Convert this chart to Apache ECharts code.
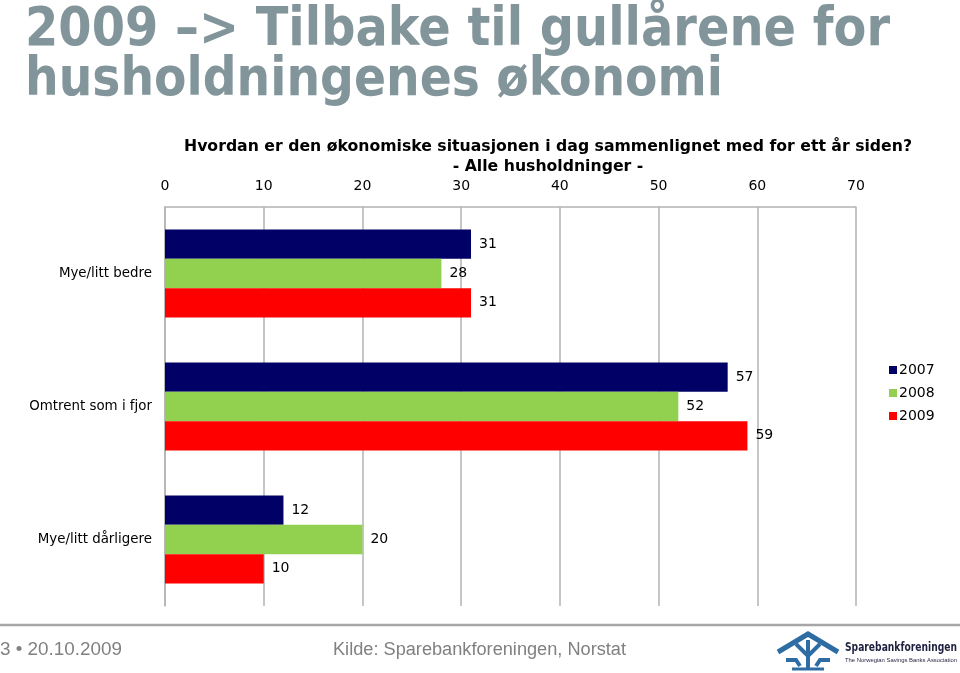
<!DOCTYPE html>
<html>
<head>
<meta charset="utf-8">
<script src="https://cdn.jsdelivr.net/npm/echarts@6/dist/echarts.min.js"></script>
<style>
html,body{margin:0;padding:0;background:#fff;}
#main{width:960px;height:673px;}
</style>
</head>
<body>
<div id="main"></div>
<script>
const categories = ['Mye/litt bedre', 'Omtrent som i fjor', 'Mye/litt dårligere'];
const seriesNames = ['2007', '2008', '2009'];
const values2007 = [31, 57, 12];
const values2008 = [28, 52, 20];
const values2009 = [31, 59, 10];
const xTicks = [0, 10, 20, 30, 40, 50, 60, 70];

const titleLine1 = '2009 –> Tilbake til gullårene for';
const titleLine2 = 'husholdningenes økonomi';
const subtitle1 = 'Hvordan er den økonomiske situasjonen i dag sammenlignet med for ett år siden?';
const subtitle2 = '- Alle husholdninger -';
const footerLeft = '3 • 20.10.2009';
const footerMid = 'Kilde: Sparebankforeningen, Norstat';
const logoName = 'Sparebankforeningen';
const logoSub = 'The Norwegian Savings Banks Association';

const colors = ['#000066', '#92D050', '#FF0000'];

const ctx = document.createElement('canvas').getContext('2d');
function fitScale(text, font, target) {
  ctx.font = font;
  return target / ctx.measureText(text).width;
}

const titleFont = 'bold 54px "DejaVu Sans"';
const s1 = fitScale(titleLine1, titleFont, 865);
const s2 = fitScale(titleLine2, titleFont, 698);
const titleColor = '#82959A';
const footFont = '18px "Liberation Sans"';
const sf1 = fitScale(footerLeft, footFont, 122);
const sf2 = fitScale(footerMid, footFont, 293);
const logoFont = 'bold 13px "DejaVu Sans"';
const logoSubFont = '6px "Liberation Sans"';
const sl1 = fitScale(logoName, logoFont, 112);
const sl2 = fitScale(logoSub, logoSubFont, 112);

const chart = echarts.init(document.getElementById('main'));
const dataSets = [values2007, values2008, values2009];

const option = {
  animation: false,
  textStyle: { fontFamily: '"DejaVu Sans", Verdana, sans-serif' },
  grid: { left: 165, right: 104, top: 207, bottom: 67, containLabel: false },
  legend: {
    orient: 'vertical',
    left: 884,
    top: 358,
    itemWidth: 8,
    itemHeight: 8,
    itemGap: 9,
    icon: 'rect',
    data: seriesNames,
    textStyle: { fontSize: 14, color: '#000', padding: [0, 0, 0, -3] }
  },
  xAxis: {
    type: 'value',
    position: 'top',
    min: 0,
    max: 70,
    interval: 10,
    axisLine: { show: true, lineStyle: { color: '#B3B3B3', width: 1.5 } },
    axisTick: { show: false },
    splitLine: { show: true, lineStyle: { color: '#B3B3B3', width: 1.5 } },
    axisLabel: {
      fontSize: 14, color: '#000', margin: 14,
      formatter: function (v) { return xTicks.indexOf(v) >= 0 ? String(v) : ''; }
    }
  },
  yAxis: {
    type: 'category',
    inverse: true,
    data: categories,
    axisLine: { show: true, lineStyle: { color: '#B3B3B3', width: 1.5 } },
    axisTick: { show: false },
    axisLabel: { fontSize: 13.4, color: '#000', margin: 13 }
  },
  series: seriesNames.map(function (name, i) {
    return {
      name: name,
      type: 'bar',
      data: dataSets[i],
      barGap: '0%',
      barCategoryGap: '34%',
      itemStyle: { color: colors[i] },
      label: { show: true, position: 'right', distance: 8, fontSize: 14, color: '#000' }
    };
  }),
  graphic: [
    { type: 'text', x: 25, y: 58, scaleX: s1, style: { text: titleLine1, font: titleFont, fill: titleColor, verticalAlign: 'bottom' } },
    { type: 'text', x: 25, y: 108, scaleX: s2, style: { text: titleLine2, font: titleFont, fill: titleColor, verticalAlign: 'bottom' } },
    { type: 'text', x: 548, y: 147, style: { text: subtitle1, font: 'bold 15.7px "DejaVu Sans"', fill: '#000', align: 'center', verticalAlign: 'middle' } },
    { type: 'text', x: 548, y: 167, style: { text: subtitle2, font: 'bold 15.7px "DejaVu Sans"', fill: '#000', align: 'center', verticalAlign: 'middle' } },
    { type: 'line', shape: { x1: 0, y1: 625, x2: 960, y2: 625 }, style: { stroke: '#A6A6A6', lineWidth: 2.5 } },
    { type: 'text', x: 0, y: 650, scaleX: sf1, style: { text: footerLeft, font: footFont, fill: '#808080', verticalAlign: 'middle' } },
    { type: 'text', x: 333, y: 650, scaleX: sf2, style: { text: footerMid, font: footFont, fill: '#808080', verticalAlign: 'middle' } },
    // logo mark
    { type: 'polyline', shape: { points: [[778, 652], [808, 634], [838, 652]] }, style: { stroke: '#2E6DA4', lineWidth: 5, fill: 'none' } },
    { type: 'polyline', shape: { points: [[796, 644], [808, 656], [820, 644]] }, style: { stroke: '#2E6DA4', lineWidth: 4, fill: 'none' } },
    { type: 'line', shape: { x1: 808, y1: 640, x2: 808, y2: 668 }, style: { stroke: '#2E6DA4', lineWidth: 4 } },
    { type: 'polyline', shape: { points: [[786, 660], [796, 660], [800, 666]] }, style: { stroke: '#2E6DA4', lineWidth: 4, fill: 'none' } },
    { type: 'polyline', shape: { points: [[830, 660], [820, 660], [816, 666]] }, style: { stroke: '#2E6DA4', lineWidth: 4, fill: 'none' } },
    { type: 'line', shape: { x1: 792, y1: 669, x2: 824, y2: 669 }, style: { stroke: '#2E6DA4', lineWidth: 3 } },
    { type: 'text', x: 845, y: 648, scaleX: sl1, style: { text: logoName, font: logoFont, fill: '#1F1F3F', verticalAlign: 'middle' } },
    { type: 'text', x: 845, y: 660, scaleX: sl2, style: { text: logoSub, font: logoSubFont, fill: '#1F1F3F', verticalAlign: 'middle' } }
  ]
};
chart.setOption(option);
</script>
</body>
</html>
